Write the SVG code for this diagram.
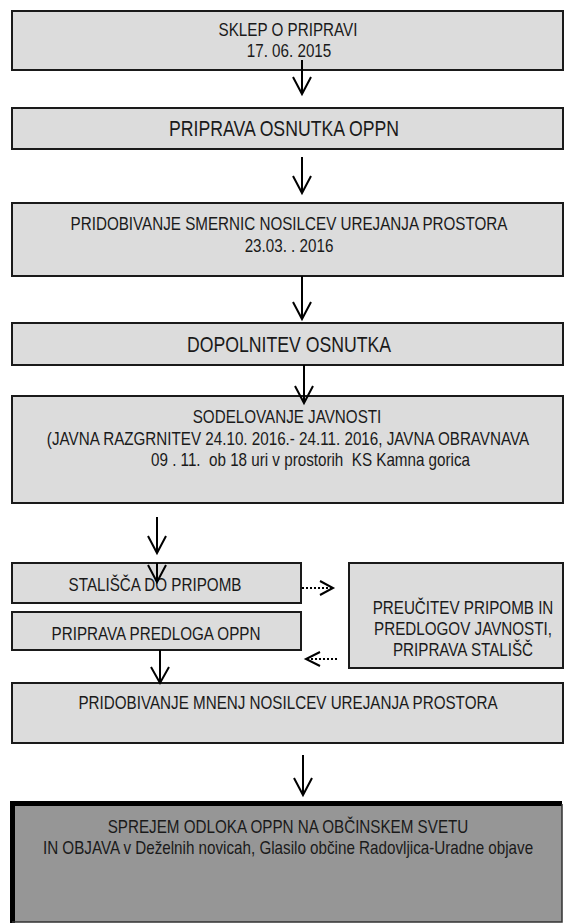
<svg xmlns="http://www.w3.org/2000/svg" width="565" height="923" viewBox="0 0 565 923">
<style>
.box{fill:#dcdcdc;stroke:#1a1a1a;stroke-width:2}
.t{font-family:"Liberation Sans",Arial,sans-serif;font-size:18.5px;fill:#1a1a1a;text-anchor:middle}
.L{font-size:21.5px}
.s{text-anchor:start}
.arr{fill:none;stroke:#000;stroke-width:2}
.dot{stroke-dasharray:2 2}
</style>
<rect width="565" height="923" fill="#fff"/>
<g id="n1">
<rect class="box" x="12" y="11" width="551" height="59"/>
<text class="t" transform="translate(288 36) scale(0.822 1)">SKLEP O PRIPRAVI</text>
<text class="t" transform="translate(289 57) scale(0.822 1)">17. 06. 2015</text>
</g>
<g id="n2">
<rect class="box" x="12" y="108" width="551" height="41"/>
<text class="t L" transform="translate(284 136) scale(0.822 1)">PRIPRAVA OSNUTKA OPPN</text>
</g>
<g id="n3">
<rect class="box" x="12" y="203" width="551" height="73"/>
<text class="t" transform="translate(289 230) scale(0.822 1)">PRIDOBIVANJE SMERNIC NOSILCEV UREJANJA PROSTORA</text>
<text class="t" transform="translate(289 252) scale(0.822 1)">23.03. . 2016</text>
</g>
<g id="n4">
<rect class="box" x="12" y="323" width="551" height="42"/>
<text class="t L" transform="translate(289 352) scale(0.822 1)">DOPOLNITEV OSNUTKA</text>
</g>
<g id="n5">
<rect class="box" x="12" y="396" width="551" height="107"/>
<text class="t" transform="translate(287 423) scale(0.822 1)">SODELOVANJE JAVNOSTI</text>
<text class="t" transform="translate(288 445) scale(0.822 1)">(JAVNA RAZGRNITEV 24.10. 2016.- 24.11. 2016, JAVNA OBRAVNAVA</text>
<text class="t s" xml:space="preserve" transform="translate(151 466) scale(0.822 1)">09 . 11.  ob 18 uri v prostorih  KS Kamna gorica</text>
</g>
<g id="n6">
<rect class="box" x="12" y="563" width="289" height="40"/>
<text class="t" transform="translate(155 591) scale(0.822 1)">STALIŠČA DO PRIPOMB</text>
</g>
<g id="n7">
<rect class="box" x="12" y="612" width="289" height="38"/>
<text class="t" transform="translate(156 640) scale(0.822 1)">PRIPRAVA PREDLOGA OPPN</text>
</g>
<g id="n8">
<rect class="box" x="349" y="563" width="214" height="105"/>
<text class="t" transform="translate(463 614) scale(0.822 1)">PREUČITEV PRIPOMB IN</text>
<text class="t" transform="translate(463 635) scale(0.822 1)">PREDLOGOV JAVNOSTI,</text>
<text class="t" transform="translate(463 656) scale(0.822 1)">PRIPRAVA STALIŠČ</text>
</g>
<g id="n9">
<rect class="box" x="12" y="683" width="551" height="60"/>
<text class="t" transform="translate(288 709) scale(0.822 1)">PRIDOBIVANJE MNENJ NOSILCEV UREJANJA PROSTORA</text>
</g>
<g id="n10">
<rect x="12" y="803" width="550" height="119" fill="#969696"/>
<path d="M12.5 923 V803.5 H562" fill="none" stroke="#000" stroke-width="5"/>
<path d="M562 804 V922 H12" fill="none" stroke="#333" stroke-width="1.5"/>
<text class="t" transform="translate(288 833) scale(0.822 1)">SPREJEM ODLOKA OPPN NA OBČINSKEM SVETU</text>
<text class="t" transform="translate(288 854) scale(0.822 1)">IN OBJAVA v Deželnih novicah, Glasilo občine Radovljica-Uradne objave</text>
</g>
<g id="connectors" class="arr">
<path d="M302 60 V94 M293 77 L302 94 L311 77"/>
<path d="M302 157 V193 M293 176 L302 193 L311 176"/>
<path d="M302 276 V319 M293 302 L302 319 L311 302"/>
<path d="M304 365 V403 M295 386 L304 403 L313 386"/>
<path d="M157 517 V553 M148 536 L157 553 L166 536"/>
<path d="M157 563 V582 M148 565 L157 582 L166 565"/>
<path d="M160 650 V683 M151 667 L160 683 L169 667"/>
<path d="M303 755 V795 M294 778 L303 795 L312 778"/>
<path class="dot" d="M302 588 H331"/>
<path d="M320 581 L333 588 L320 595"/>
<path class="dot" d="M337 659 H308"/>
<path d="M320 652 L306 659 L320 666"/>
</g>
</svg>
